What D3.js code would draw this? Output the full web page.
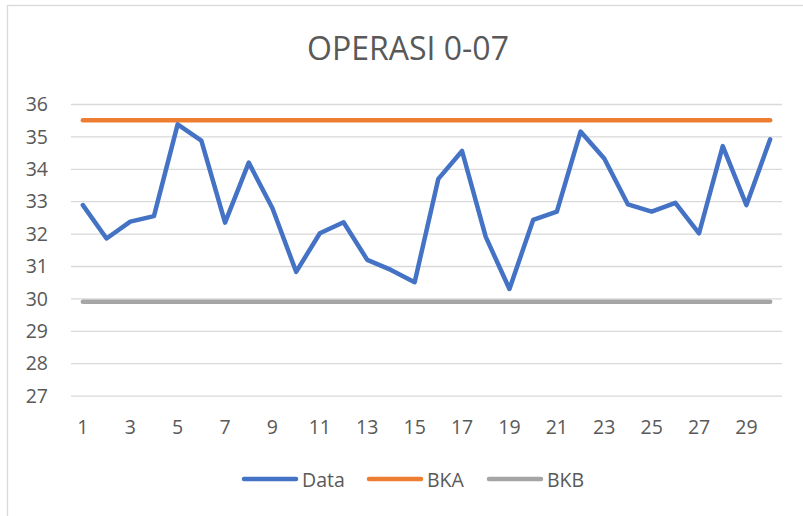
<!DOCTYPE html>
<html lang="en">
<head>
    <meta charset="UTF-8">
    <title>OPERASI 0-07</title>
    <script src="https://cdn.jsdelivr.net/npm/d3@7"></script>
    <style>
        body {
            margin: 0;
            padding: 0;
            background: #fff;
            font-family: "Open Sans", Arial, sans-serif;
        }
        .axis text {
            fill: #595959;
            font-family: "Open Sans", Arial, sans-serif;
        }
    </style>
</head>
<body>
    <div id="chart"></div>

    <script>
        const days = d3.range(1, 31);
        const dataValues = [
            32.88, 31.85, 32.37, 32.54, 35.37, 34.87, 32.34, 34.19, 32.78, 30.82,
            32.01, 32.35, 31.19, 30.88, 30.5, 33.69, 34.55, 31.9, 30.29, 32.42,
            32.68, 35.15, 34.32, 32.9, 32.68, 32.95, 32.01, 34.7, 32.88, 34.91
        ];
        const bkaValues = days.map(() => 35.5);
        const bkbValues = days.map(() => 29.9);
        const yTicks = [27, 28, 29, 30, 31, 32, 33, 34, 35, 36];
        const xTickLabels = days.filter(d => d % 2 === 1);

        const series = [
            { name: "Data", values: dataValues, color: "#4472C4" },
            { name: "BKA", values: bkaValues, color: "#ED7D31" },
            { name: "BKB", values: bkbValues, color: "#A5A5A5" }
        ];

        const width = 803;
        const height = 516;
        const plot = { left: 71, right: 782, top: 104, bottom: 395.6 };

        const svg = d3.select("#chart")
            .append("svg")
            .attr("width", width)
            .attr("height", height);

        // chart frame
        svg.append("rect")
            .attr("x", 7.5)
            .attr("y", 5.5)
            .attr("width", 820)
            .attr("height", 530)
            .attr("fill", "#fff")
            .attr("stroke", "#d9d9d9")
            .attr("stroke-width", 1.3);

        const x = d3.scaleBand()
            .domain(days)
            .range([plot.left, plot.right])
            .padding(0);

        const y = d3.scaleLinear()
            .domain([27, 36])
            .range([plot.bottom, plot.top]);

        const px = d => x(d) + x.bandwidth() / 2;

        // gridlines
        svg.append("g")
            .attr("transform", `translate(${plot.left},0)`)
            .call(d3.axisLeft(y).tickValues(yTicks).tickSize(-(plot.right - plot.left)).tickFormat(""))
            .call(g => g.select(".domain").remove())
            .call(g => g.selectAll("line").attr("stroke", "#d9d9d9").attr("stroke-width", 1.3));

        // y axis labels
        svg.append("g")
            .attr("class", "axis")
            .attr("transform", `translate(${plot.left - 23},0)`)
            .call(d3.axisLeft(y).tickValues(yTicks).tickSize(0).tickPadding(0))
            .call(g => g.select(".domain").remove())
            .call(g => g.selectAll("text").style("font-size", "19.5px").attr("dy", "0.34em"));

        // x axis labels
        svg.append("g")
            .attr("class", "axis")
            .attr("transform", `translate(0,${plot.bottom})`)
            .call(d3.axisBottom(x).tickValues(xTickLabels).tickSize(0).tickPadding(0))
            .call(g => g.select(".domain").remove())
            .call(g => g.selectAll("text").style("font-size", "19.5px").attr("dy", 0).attr("y", 38));

        const line = d3.line()
            .x((d, i) => px(days[i]))
            .y(d => y(d));

        // draw BKB, BKA, then Data on top
        [series[2], series[1], series[0]].forEach(s => {
            svg.append("path")
                .datum(s.values)
                .attr("d", line)
                .attr("fill", "none")
                .attr("stroke", s.color)
                .attr("stroke-width", 4.5)
                .attr("stroke-linejoin", "round")
                .attr("stroke-linecap", "round");
        });

        // title
        svg.append("text")
            .attr("x", 408)
            .attr("y", 60)
            .attr("text-anchor", "middle")
            .attr("fill", "#595959")
            .style("font-family", "'Open Sans', Arial, sans-serif")
            .style("font-size", "32px")
            .text("OPERASI 0-07");

        // legend
        const legendX = [242, 367, 487];
        const legend = svg.append("g");
        series.forEach((s, i) => {
            const g = legend.append("g").attr("transform", `translate(${legendX[i]},479)`);
            g.append("line")
                .attr("x1", 2).attr("x2", 54)
                .attr("stroke", s.color)
                .attr("stroke-width", 4.5)
                .attr("stroke-linecap", "round");
            g.append("text")
                .attr("x", 60)
                .attr("y", 8)
                .attr("fill", "#595959")
                .style("font-family", "'Open Sans', Arial, sans-serif")
                .style("font-size", "19.5px")
                .text(s.name);
        });
    </script>
</body>
</html>
